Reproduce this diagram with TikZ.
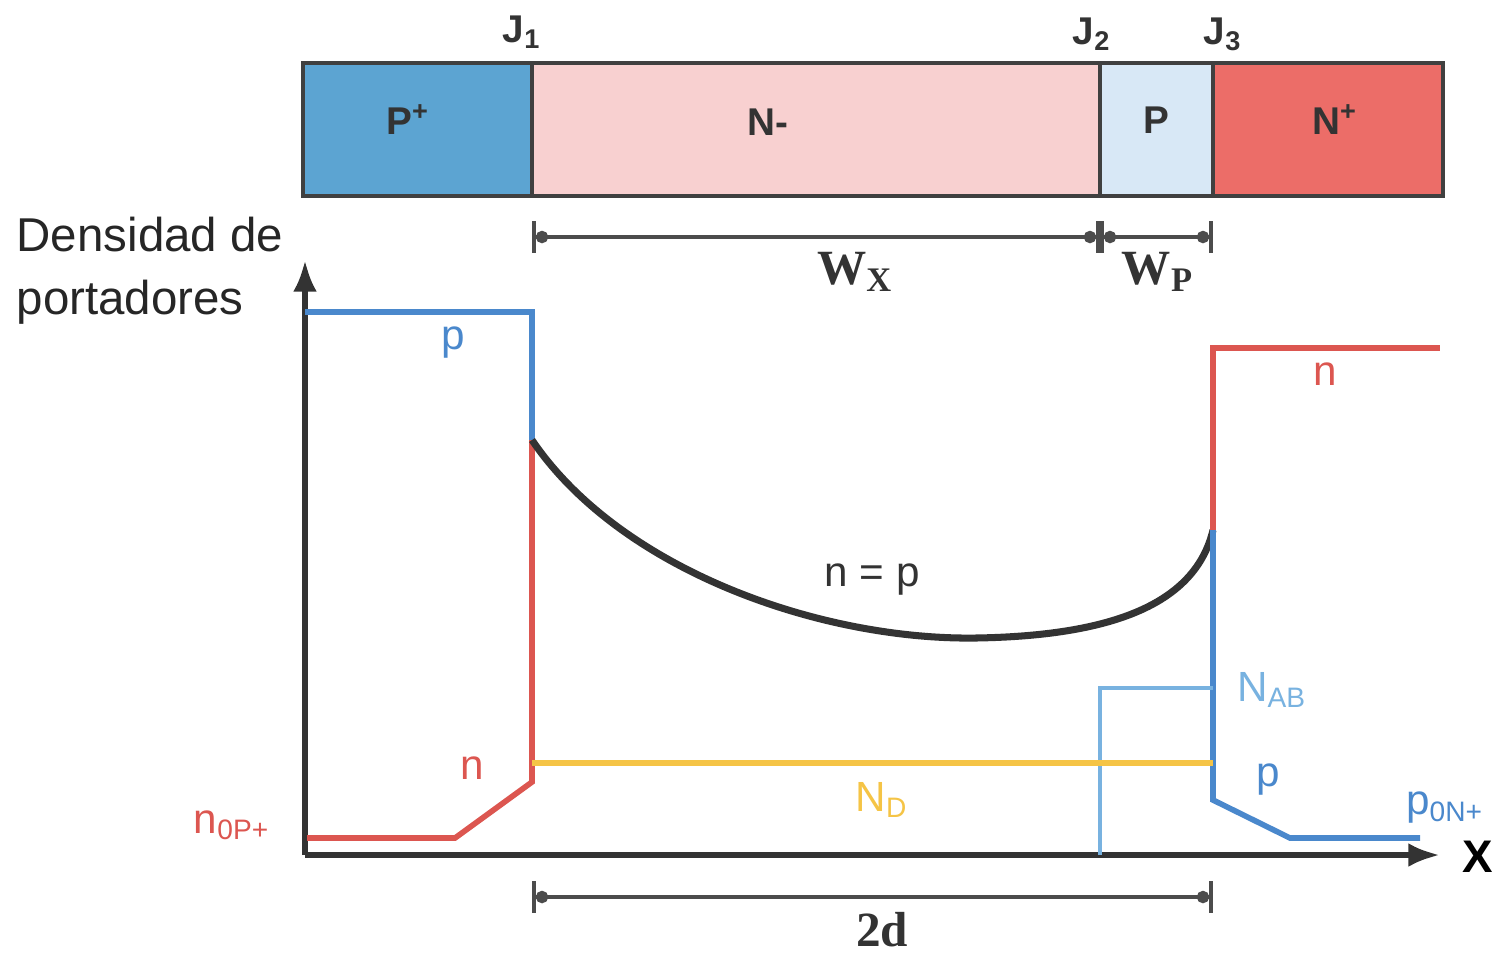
\documentclass[tikz,border=0pt]{standalone}
\usepackage{fontspec}
\setmainfont{Liberation Sans}
\newfontfamily\wfont{Liberation Serif}
\usepackage{tikz}
\usetikzlibrary{arrows.meta, positioning}
\definecolor{pplus}{HTML}{5CA4D2}
\definecolor{nminus}{HTML}{F8D0D0}
\definecolor{pbase}{HTML}{D8E8F6}
\definecolor{nplus}{HTML}{EC6D68}
\definecolor{pline}{HTML}{4A88CC}
\definecolor{nline}{HTML}{DC5650}
\definecolor{ndline}{HTML}{F5C446}
\definecolor{nabline}{HTML}{78B2E0}
\tikzset{
  layer/.style={draw=black!75, line width=1.4pt},
  dimline/.style={draw=black!70, line width=1.1pt, {Bar[width=9pt]Circle[length=3.5pt]}-{Circle[length=3.5pt]Bar[width=9pt]}},
  dimlbl/.style={font=\wfont\fontsize{14}{16}\selectfont\bfseries, text=black!80},
  curvelbl/.style={font=\fontsize{12}{14}\selectfont},
  bold/.style={font=\fontsize{11}{13}\selectfont\bfseries, text=black!80}
}

\begin{document}
\begin{tikzpicture}[x=0.01cm, y=-0.01cm]
        \useasboundingbox (0,0) rectangle (1497,953);
        % device layers
        \draw[layer, fill=pplus] (303,63) rectangle (532,196);
        \draw[layer, fill=nminus] (532,63) rectangle (1100,196);
        \draw[layer, fill=pbase] (1100,63) rectangle (1213,196);
        \draw[layer, fill=nplus] (1213,63) rectangle (1443,196);
        \node[bold] (pp) at (408,120) {P\textsuperscript{+}};
        \node[bold] (nm) at (768,122) {N-};
        \node[bold] (pb) at (1156,120) {P};
        \node[bold] (np) at (1335,120) {N\textsuperscript{+}};
        \node[bold] (j1) at (522,32) {J\textsubscript{1}};
        \node[bold] (j2) at (1092,34) {J\textsubscript{2}};
        \node[bold] (j3) at (1223,34) {J\textsubscript{3}};
        % widths
        \coordinate (wa) at (532,237);
        \coordinate (wb) at (1100,237);
        \coordinate (wc) at (1213,237);
        \draw[dimline] (wa) -- (wb);
        \draw[dimline] (wb) -- (wc);
        \node[dimlbl] (wx) at (855,272) {W\textsubscript{X}};
        \node[dimlbl] (wp) at (1158,272) {W\textsubscript{P}};
        % axes
        \coordinate (o) at (305,855);
        \coordinate (ytop) at (305,260);
        \coordinate (xend) at (1440,855);
        \draw[line width=1.6pt, black!80, -{Latex[length=9pt]}] (o) -- (ytop);
        \draw[line width=1.6pt, black!80, -{Latex[length=9pt]}] (o) -- (xend);
        \node[font=\fontsize{13}{15}\selectfont\bfseries] (xl) at (1478,857) {X};
        \node[align=left, anchor=north west, font=\fontsize{13.5}{18}\selectfont, text=black!85, inner sep=0pt] (ylbl) at (16,216) {Densidad de\\portadores};
        % carrier profiles
        \coordinate (ja) at (532,440);
        \coordinate (jc) at (1213,530);
        \draw[pline, line width=1.6pt] (305,312) -- (532,312) -- (ja);
        \draw[nline, line width=1.6pt] (307,838) -- (455,838) -- (532,782) -- (ja);
        \draw[black!80, line width=2pt] (ja) .. controls (620,570) and (820,640) .. (975,638) .. controls (1110,636) and (1195,605) .. (jc);
        \draw[nline, line width=1.6pt] (jc) -- (1213,348) -- (1440,348);
        \draw[pline, line width=1.6pt] (jc) -- (1213,800) -- (1290,838) -- (1420,838);
        \draw[nabline, line width=1.3pt] (1100,855) -- (1100,688) -- (1213,688);
        \draw[ndline, line width=1.6pt] (532,763) -- (1213,763);
        % labels
        \node[curvelbl, text=pline] (lp1) at (453,343) {p};
        \node[curvelbl, text=nline] (ln1) at (472,768) {n};
        \node[curvelbl, text=nline] (ln2) at (1325,374) {n};
        \node[curvelbl, text=pline] (lp2) at (1268,780) {p};
        \node[curvelbl, text=black!80] (lnp) at (872,580) {n = p};
        \node[curvelbl, text=nabline] (lnab) at (1272,690) {N\textsubscript{AB}};
        \node[curvelbl, text=ndline] (lnd) at (882,800) {N\textsubscript{D}};
        \node[curvelbl, text=nline] (ln0) at (232,825) {n\textsubscript{0P+}};
        \node[curvelbl, text=pline] (lp0) at (1445,808) {p\textsubscript{0N+}};
        % 2d
        \coordinate (da) at (532,897);
        \coordinate (db) at (1213,897);
        \draw[dimline] (da) -- (db);
        \node[dimlbl] (dd) at (882,930) {2d};
\end{tikzpicture}
\end{document}
